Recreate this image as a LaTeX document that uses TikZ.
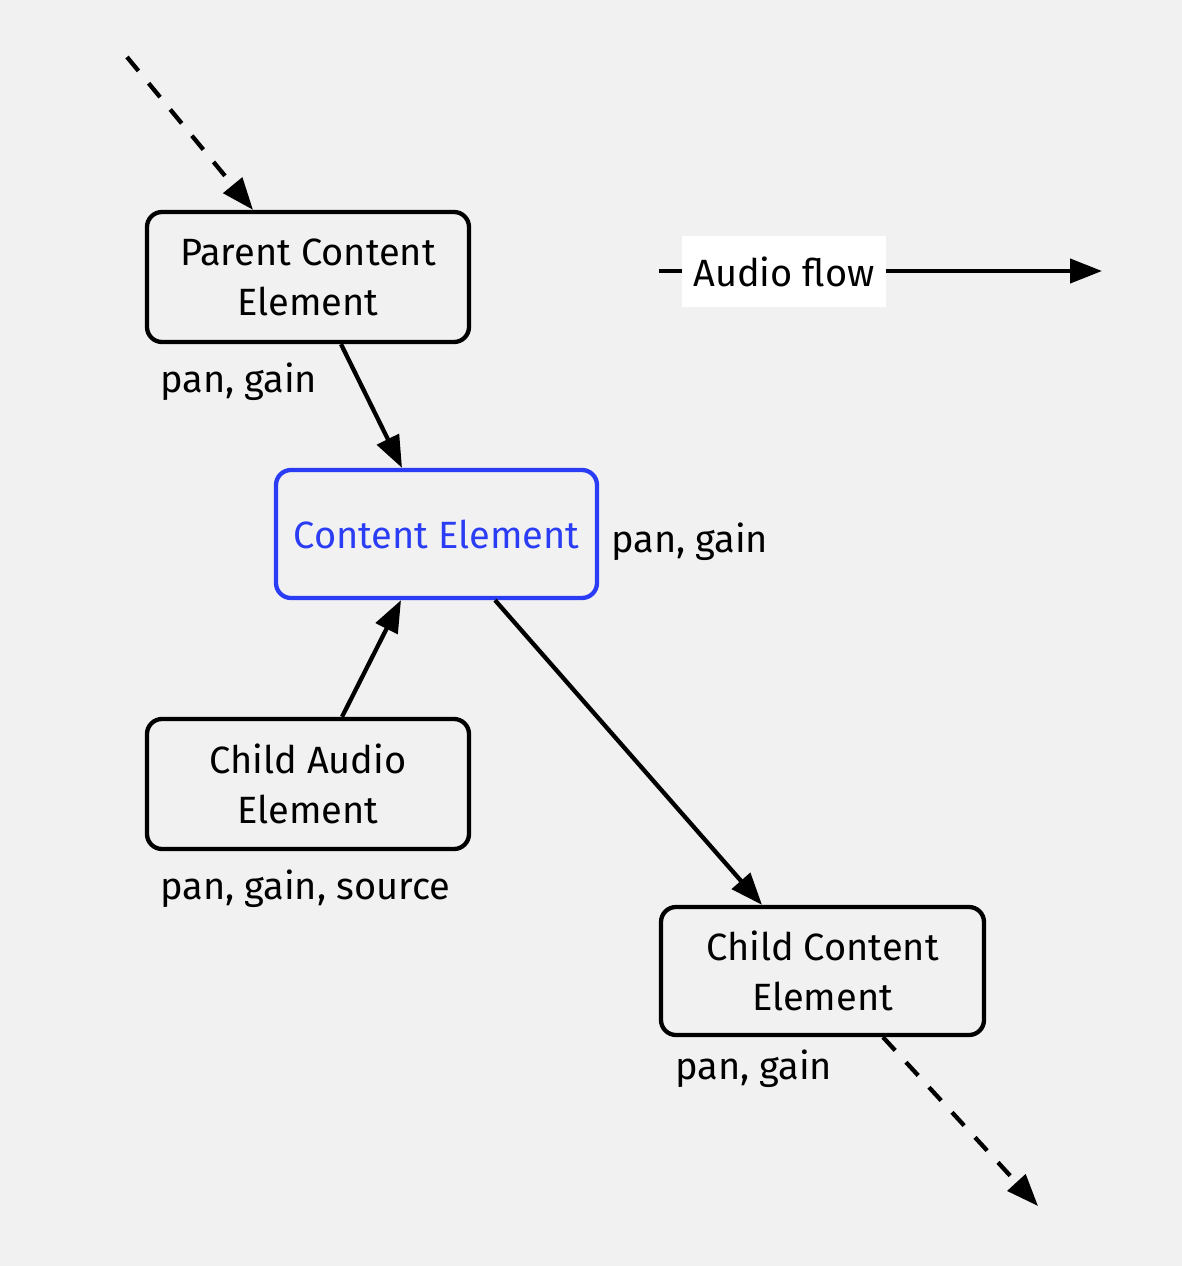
\documentclass[tikz,border=0pt]{standalone}
\usepackage{fontspec}
\setmainfont{Fira Sans}
\usetikzlibrary{arrows.meta,calc}
\definecolor{bg}{HTML}{F1F1F1}
\definecolor{ceblue}{HTML}{2B3DF4}
\tikzset{
  elembox/.style={draw, line width=4.3pt, rounded corners=15pt, align=center,
    minimum width=322pt, minimum height=130pt, inner sep=0pt,
    font=\fontsize{38}{50}\selectfont},
  flow/.style={line width=4.3pt, -{Triangle[length=32pt,width=24pt]}},
  dflow/.style={flow, dash pattern=on 18pt off 16pt},
  lbl/.style={anchor=base west, inner sep=0pt, font=\fontsize{38}{44}\selectfont},
}
\begin{document}
\begin{tikzpicture}[x=1pt,y=-1pt]
\fill[bg] (0,0) rectangle (1182,1266);
\useasboundingbox (0,0) rectangle (1182,1266);

\node[elembox] (parent) at (308,277) {Parent Content\\Element};
\node[elembox, draw=ceblue, text=ceblue, minimum width=321pt, minimum height=128pt] (ce) at (436.5,534) {Content Element};
\node[elembox] (audio) at (308,784) {Child Audio\\Element};
\node[elembox, minimum width=323pt, minimum height=128pt] (child) at (822.5,971) {Child Content\\Element};

\node[lbl] (l1) at (160,392) {pan, gain};
\node[lbl] (l2) at (611,552) {pan, gain};
\node[lbl] (l3) at (160,899) {pan, gain, source};
\node[lbl] (l4) at (675,1079) {pan, gain};

\coordinate (top) at (127,57);
\coordinate (bottom) at (1038,1206);
\draw[dflow] (top) -- ([xshift=-55pt]parent.north);
\draw[flow] ([xshift=33pt]parent.south) -- ([xshift=-34.5pt]ce.north);
\draw[flow] ([xshift=34pt]audio.north) -- ([xshift=-35.5pt]ce.south);
\draw[flow] ([xshift=58.5pt]ce.south) -- ([xshift=-60.5pt]child.north);
\draw[dflow] ([xshift=60.5pt]child.south) -- (bottom);

\coordinate (lstart) at (659,271);
\coordinate (lend) at (1102,271);
\draw[flow] (lstart) -- (lend);
\node[fill=white, minimum width=204pt, minimum height=71pt, inner sep=0pt,
  font=\fontsize{38}{44}\selectfont] (legend) at (784,271.5) {Audio flow};
\end{tikzpicture}
\end{document}
